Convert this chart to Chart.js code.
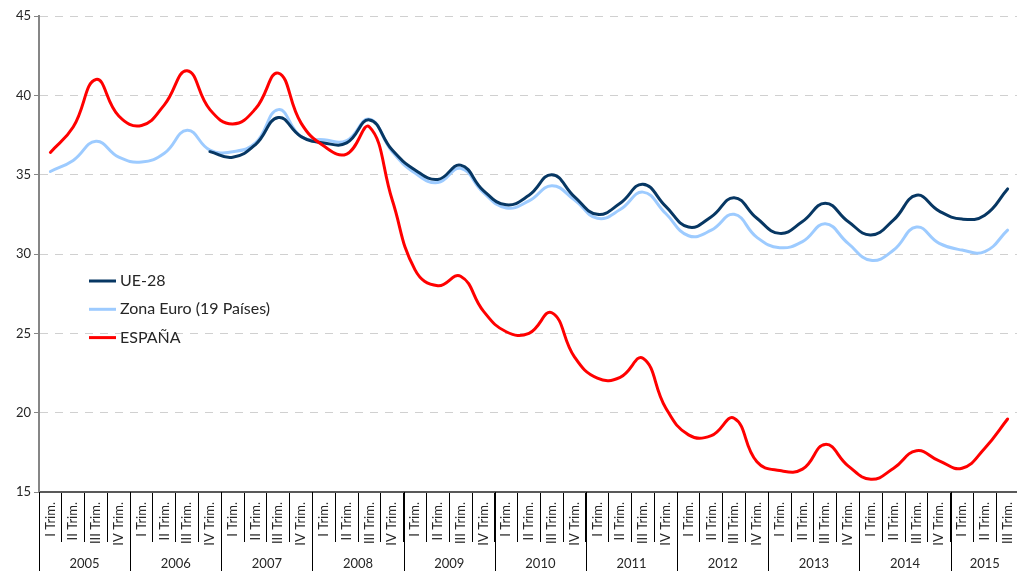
<!DOCTYPE html>
<html>
<head>
<meta charset="utf-8">
<script src="https://cdn.jsdelivr.net/npm/chart.js@4"></script>
<style>
  body { margin: 0; overflow: hidden; background: #fff; }
  #wrap { width: 1019px; height: 571px; }
</style>
</head>
<body>
<div id="wrap"><canvas id="chart" width="1019" height="571"></canvas></div>
<script>
const years = ['2005', '2006', '2007', '2008', '2009', '2010', '2011', '2012', '2013', '2014', '2015'];
const quarterNames = ['I Trim.', 'II Trim.', 'III Trim.', 'IV Trim.'];
const quarters = [];
years.forEach((y, i) => quarterNames.forEach((q, j) => {
    if (i * 4 + j < 43) quarters.push(q);
}));

const ue28 = [null, null, null, null, null, null, null,
    36.45, 36.1, 36.9, 38.6, 37.4, 37.0, 37.0, 38.45, 36.55, 35.3, 34.7, 35.6,
    34.0, 33.1, 33.7, 35.0, 33.6, 32.5, 33.2, 34.4, 33.0, 31.7, 32.35, 33.55,
    32.25, 31.3, 32.05, 33.2, 32.05, 31.2, 32.15, 33.7, 32.7, 32.2, 32.45, 34.1];

const zonaEuro = [35.2, 35.9, 37.1, 36.1, 35.8, 36.35, 37.8, 36.55, 36.45, 37.0, 39.1,
    37.4, 37.2, 37.15, 38.5, 36.45, 35.1, 34.5, 35.4, 33.87, 32.9, 33.35, 34.3,
    33.4, 32.25, 32.8, 33.9, 32.55, 31.15, 31.5, 32.5, 31.05, 30.4, 30.78, 31.9,
    30.67, 29.6, 30.25, 31.7, 30.67, 30.25, 30.15, 31.5];

const espana = [36.4, 38.0, 41.0, 38.7, 38.1, 39.4, 41.55, 39.1, 38.2, 39.15, 41.4,
    38.25, 36.8, 36.3, 38.0, 33.4, 29.0, 28.0, 28.6, 26.4, 25.1, 25.0, 26.3,
    23.5, 22.17, 22.23, 23.43, 20.3, 18.6, 18.55, 19.65, 16.9, 16.35, 16.44, 18.0,
    16.65, 15.8, 16.5, 17.6, 16.96, 16.5, 17.76, 19.6];

const textColor = '#262626';
Chart.defaults.font.family = 'Lato';
Chart.defaults.color = textColor;

// years row under the quarter labels
const yearAxis = {
    id: 'yearAxis',
    afterDraw(chart) {
        const ctx = chart.ctx;
        const x = chart.scales.x;
        const half = (x.getPixelForValue(1) - x.getPixelForValue(0)) / 2;
        const top = chart.chartArea.bottom;
        ctx.save();
        ctx.strokeStyle = '#000';
        ctx.lineWidth = 1;
        ctx.fillStyle = textColor;
        ctx.font = '13px Lato';
        ctx.textAlign = 'center';
        ctx.textBaseline = 'middle';
        years.forEach((y, i) => {
            const first = i * 4;
            const last = Math.min(first + 3, quarters.length - 1);
            const left = x.getPixelForValue(first) - half;
            const right = x.getPixelForValue(last) + half;
            ctx.beginPath();
            ctx.moveTo(Math.round(left) + 0.5, top);
            ctx.lineTo(Math.round(left) + 0.5, 571);
            ctx.stroke();
            ctx.fillText(y, (left + right) / 2, 564);
        });
        ctx.restore();
    }
};

// legend drawn inside the plot area
const innerLegend = {
    id: 'innerLegend',
    afterDraw(chart) {
        const ctx = chart.ctx;
        const left = chart.chartArea.left + 50;
        ctx.save();
        ctx.font = '16px Lato';
        ctx.textBaseline = 'middle';
        ctx.fillStyle = textColor;
        chart.data.datasets.forEach((ds, i) => {
            const y = 281 + i * 28.3;
            ctx.strokeStyle = ds.borderColor;
            ctx.lineWidth = 3;
            ctx.beginPath();
            ctx.moveTo(left, y);
            ctx.lineTo(left + 27, y);
            ctx.stroke();
            ctx.fillText(ds.label, left + 31, y);
        });
        ctx.restore();
    }
};

new Chart(document.getElementById('chart'), {
    type: 'line',
    data: {
        labels: quarters,
        datasets: [
            { label: 'UE-28', data: ue28, borderColor: '#073763', order: 1 },
            { label: 'Zona Euro (19 Países)', data: zonaEuro, borderColor: '#9dcbff', order: 2 },
            { label: 'ESPAÑA', data: espana, borderColor: '#ff0000', order: 0 },
        ]
    },
    options: {
        responsive: false,
        animation: false,
        layout: { padding: { top: 16, right: 0, left: 0, bottom: 0 } },
        elements: {
            line: { borderWidth: 3, tension: 0.45, fill: false, borderCapStyle: 'round' },
            point: { radius: 0 }
        },
        plugins: {
            legend: { display: false },
            tooltip: { enabled: false }
        },
        scales: {
            x: {
                offset: true,
                grid: {
                    display: true,
                    offset: true,
                    drawOnChartArea: false,
                    drawTicks: true,
                    tickLength: 50,
                    tickColor: '#000',
                    tickWidth: 1
                },
                border: { color: '#595959', width: 2 },
                ticks: {
                    autoSkip: false,
                    minRotation: 90,
                    maxRotation: 90,
                    padding: -40,
                    font: { size: 13 },
                    color: textColor
                },
                afterFit(scale) { scale.height = 79; }
            },
            y: {
                min: 15,
                max: 45,
                ticks: { stepSize: 5, padding: 3, font: { size: 13 }, color: textColor },
                grid: { color: '#d0d0d0', lineWidth: 1, tickLength: 5, tickColor: '#868686' },
                border: { color: '#868686', width: 2, dash: [8, 7] },
                afterFit(scale) { scale.width = 39; }
            }
        }
    },
    plugins: [yearAxis, innerLegend]
});
</script>
</body>
</html>
